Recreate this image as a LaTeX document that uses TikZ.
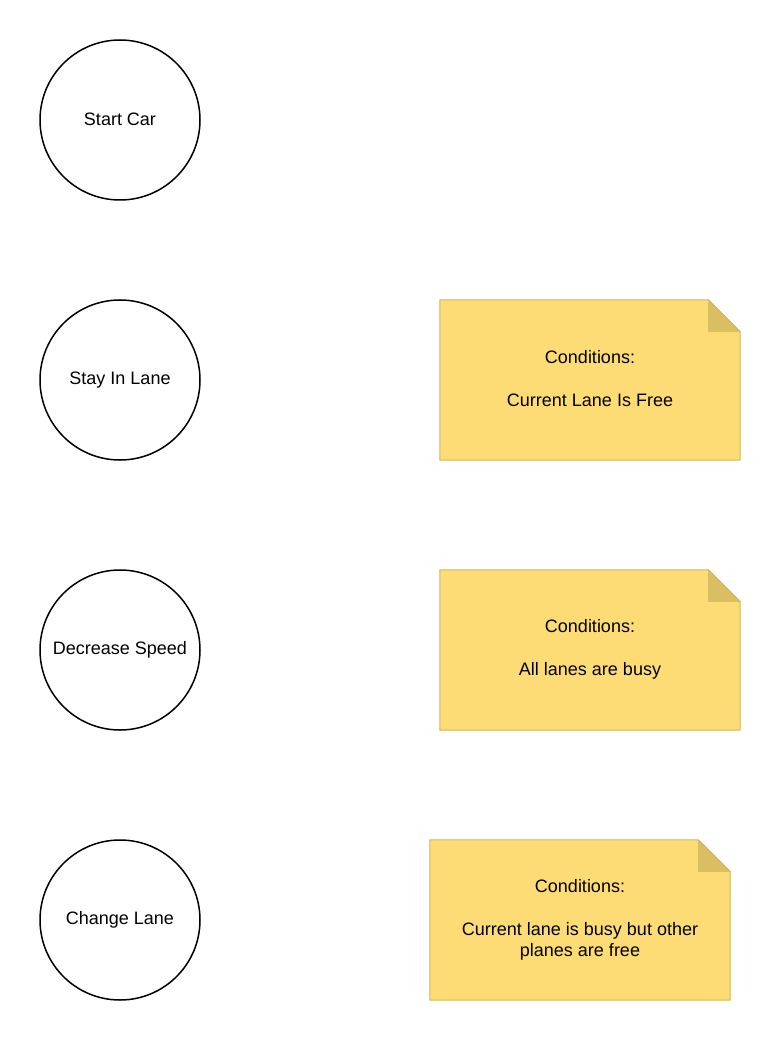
\documentclass[tikz,border=0pt]{standalone}
\usepackage{fontspec}
\setmainfont{Liberation Sans}
\usetikzlibrary{positioning}
\definecolor{notefill}{HTML}{FDDC75}
\definecolor{noteline}{HTML}{D6B656}
\definecolor{notefold}{HTML}{D9BE62}
\begin{document}
\begin{tikzpicture}[x=1pt,y=-1pt]

\useasboundingbox (0,0) rectangle (780,1040);

%states
\tikzstyle{statetype} = [draw=black, line width=1.5pt, circle, minimum size=160pt, inner sep=0pt, text centered, font=\fontsize{18}{21.5}\selectfont]
%notes
\tikzstyle{notetype} = [rectangle, minimum width=300pt, minimum height=160pt, inner sep=0pt, align=center, font=\fontsize{18}{21.5}\selectfont]

\node (start)    [statetype] at (120,120) {\raisebox{2pt}{Start Car}};
\node (stay)     [statetype] at (120,380) {\raisebox{2pt}{Stay In Lane}};
\node (decrease) [statetype] at (120,650) {\raisebox{2pt}{Decrease Speed}};
\node (change)   [statetype] at (120,920) {\raisebox{2pt}{Change Lane}};

\node (stayNote)     [notetype] at (590,380) {};
\node (decreaseNote) [notetype] at (590,650) {};
\node (changeNote)   [notetype] at (580,920) {};

\foreach \n in {stayNote, decreaseNote, changeNote} {
  \draw[fill=notefill, draw=noteline, line width=1pt]
    (\n.south west) -- (\n.north west) -- ([xshift=-32pt]\n.north east)
    -- ([yshift=-32pt]\n.north east) -- (\n.south east) -- cycle;
  \fill[notefold]
    ([xshift=-32pt]\n.north east) -- ([xshift=-32pt,yshift=-32pt]\n.north east)
    -- ([yshift=-32pt]\n.north east) -- cycle;
  \draw[draw=noteline, line width=1pt]
    ([xshift=-32pt]\n.north east) -- ([yshift=-32pt]\n.north east);
}

\node [notetype, yshift=1pt] at (stayNote)     {Conditions:\\[21.5pt]Current Lane Is Free};
\node [notetype, yshift=1pt] at (decreaseNote) {Conditions:\\[21.5pt]All lanes are busy};
\node [notetype, yshift=0pt] at (changeNote) {Conditions:\\[21.5pt]Current lane is busy but other\\planes are free};

\end{tikzpicture}
\end{document}
